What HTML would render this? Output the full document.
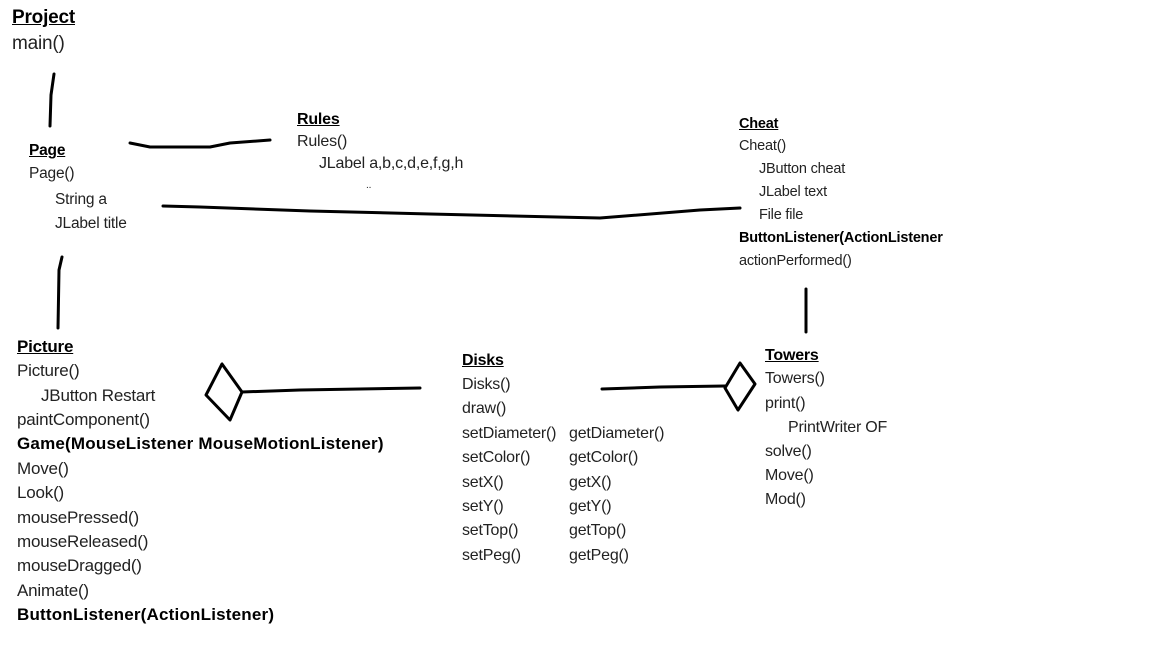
<!DOCTYPE html>
<html><head><meta charset="utf-8"><style>
body{margin:0;width:1152px;height:648px;background:#fff;position:relative;overflow:hidden;font-family:"Liberation Sans",sans-serif;color:#222}
.t{position:absolute;white-space:nowrap;line-height:18px;letter-spacing:-0.2px}
.h{font-weight:bold;text-decoration:underline;color:#000}
.b{font-weight:bold;color:#000}
.p1{font-size:19px}.p2{font-size:17px}.p3{font-size:16px}.p4{font-size:15.5px}.p5{font-size:14.5px}
svg{position:absolute;left:0;top:0}
</style></head><body>
<svg width="1152" height="648" fill="none" stroke="#000" stroke-width="3" stroke-linecap="round" stroke-linejoin="round">
<polyline points="54,74 51,95 50,126"/>
<polyline points="130,143 150,147 210,147 230,143 270,140"/>
<polyline points="163,206 200,207 310,211 430,214 600,218 700,210 740,208"/>
<polyline points="62,257 59,270 58,328"/>
<polyline points="806,289 806,332"/>
<polygon points="222,364 206,395 230,420 242,392"/>
<polyline points="242,392 300,390 420,388"/>
<polygon points="740,363 755,384 738,410 725,388"/>
<polyline points="602,389 660,387 725,386"/>
</svg>
<div class="t h p1" style="left:12px;top:9px">Project</div>
<div class="t p1" style="left:12px;top:35px">main()</div>

<div class="t h p3" style="left:297px;top:111px">Rules</div>
<div class="t p3" style="left:297px;top:133px">Rules()</div>
<div class="t p3" style="left:319px;top:155px">JLabel a,b,c,d,e,f,g,h</div>
<div class="t" style="left:366px;top:177px;font-size:10px">..</div>

<div class="t h p4" style="left:29px;top:142px">Page</div>
<div class="t p4" style="left:29px;top:165px">Page()</div>
<div class="t p4" style="left:55px;top:191px">String a</div>
<div class="t p4" style="left:55px;top:215px">JLabel title</div>

<div class="t h p5" style="left:739px;top:115px">Cheat</div>
<div class="t p5" style="left:739px;top:137px">Cheat()</div>
<div class="t p5" style="left:759px;top:160px">JButton cheat</div>
<div class="t p5" style="left:759px;top:183px">JLabel text</div>
<div class="t p5" style="left:759px;top:206px">File file</div>
<div class="t p5 b" style="left:739px;top:229px">ButtonListener(ActionListener</div>
<div class="t p5" style="left:739px;top:252px">actionPerformed()</div>

<div class="t h p2" style="left:17px;top:338px">Picture</div>
<div class="t p2" style="left:17px;top:362px">Picture()</div>
<div class="t p2" style="left:41px;top:387px">JButton Restart</div>
<div class="t p2" style="left:17px;top:411px">paintComponent()</div>
<div class="t b p2" style="left:17px;top:435px;letter-spacing:0.2px">Game(MouseListener MouseMotionListener)</div>
<div class="t p2" style="left:17px;top:460px">Move()</div>
<div class="t p2" style="left:17px;top:484px">Look()</div>
<div class="t p2" style="left:17px;top:509px">mousePressed()</div>
<div class="t p2" style="left:17px;top:533px">mouseReleased()</div>
<div class="t p2" style="left:17px;top:557px">mouseDragged()</div>
<div class="t p2" style="left:17px;top:582px">Animate()</div>
<div class="t b p2" style="left:17px;top:606px;letter-spacing:0.2px">ButtonListener(ActionListener)</div>

<div class="t h p3" style="left:462px;top:352px">Disks</div>
<div class="t p3" style="left:462px;top:376px">Disks()</div>
<div class="t p3" style="left:462px;top:400px">draw()</div>
<div class="t p3" style="left:462px;top:425px">setDiameter()</div>
<div class="t p3" style="left:462px;top:449px">setColor()</div>
<div class="t p3" style="left:462px;top:474px">setX()</div>
<div class="t p3" style="left:462px;top:498px">setY()</div>
<div class="t p3" style="left:462px;top:522px">setTop()</div>
<div class="t p3" style="left:462px;top:547px">setPeg()</div>
<div class="t p3" style="left:569px;top:425px">getDiameter()</div>
<div class="t p3" style="left:569px;top:449px">getColor()</div>
<div class="t p3" style="left:569px;top:474px">getX()</div>
<div class="t p3" style="left:569px;top:498px">getY()</div>
<div class="t p3" style="left:569px;top:522px">getTop()</div>
<div class="t p3" style="left:569px;top:547px">getPeg()</div>

<div class="t h p3" style="left:765px;top:347px">Towers</div>
<div class="t p3" style="left:765px;top:370px">Towers()</div>
<div class="t p3" style="left:765px;top:395px">print()</div>
<div class="t p3" style="left:788px;top:419px">PrintWriter OF</div>
<div class="t p3" style="left:765px;top:443px">solve()</div>
<div class="t p3" style="left:765px;top:467px">Move()</div>
<div class="t p3" style="left:765px;top:491px">Mod()</div>
</body></html>
